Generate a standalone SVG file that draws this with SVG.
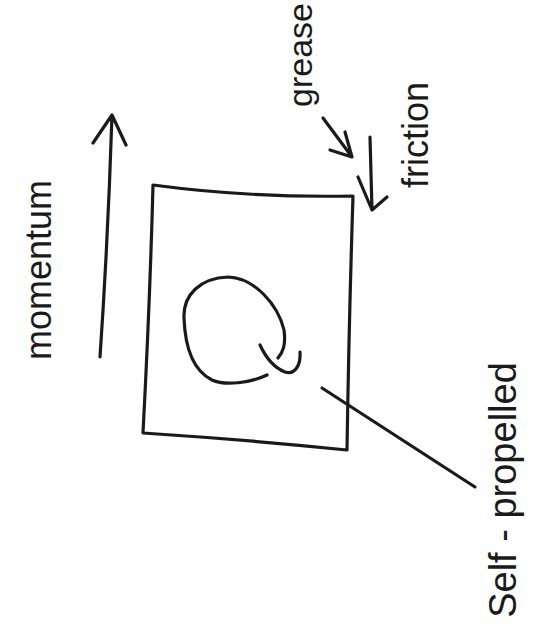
<svg xmlns="http://www.w3.org/2000/svg" width="536" height="629" viewBox="0 0 536 629">
<style>
.s{fill:none;stroke:#1a1a1a;stroke-width:3.2;stroke-linecap:round;stroke-linejoin:round}
.t{font-family:"Liberation Sans",Arial,sans-serif;fill:#1a1a1a;text-anchor:middle;dominant-baseline:central}
</style>
<rect width="536" height="629" fill="#ffffff"/>
<g id="box">
<path class="s" d="M153,185 Q250,198 353,196 Q349,320 347,450 Q250,440 143,433 Q150,300 153,185 Z"/>
<path class="s" d="M267,375 C250,383 225,386 212,380 C192,370 185,345 184,318 C183,295 200,278 228,277 C255,278 278,305 284,330 C286,345 283,352 278,358"/>
<path class="s" d="M260,345 C266,358 275,368 285,372 C295,375 301,365 300,352"/>
</g>
<g id="momentum">
<text class="t" transform="translate(38,270) rotate(-90)" font-size="36">momentum</text>
</g>
<g id="grease">
<text class="t" transform="translate(300,55) rotate(-90)" font-size="34">grease</text>
</g>
<g id="friction">
<text class="t" transform="translate(415,135) rotate(-90)" font-size="36">friction</text>
</g>
<g id="selfpropelled">
<text class="t" transform="translate(503,490) rotate(-90)" font-size="38">Self - propelled</text>
</g>
<g id="connectors">
<path class="s" d="M100,357 Q108,240 112,115 M93,143 L112,115 L126,145"/>
<path class="s" d="M323,118 L352,157 M345,132 L352,157 L330,150"/>
<path class="s" d="M370,137 L372,210 M358,177 L372,210 L387,197"/>
<path class="s" stroke-width="2.5" d="M322,388 L475,487"/>
</g>
</svg>
